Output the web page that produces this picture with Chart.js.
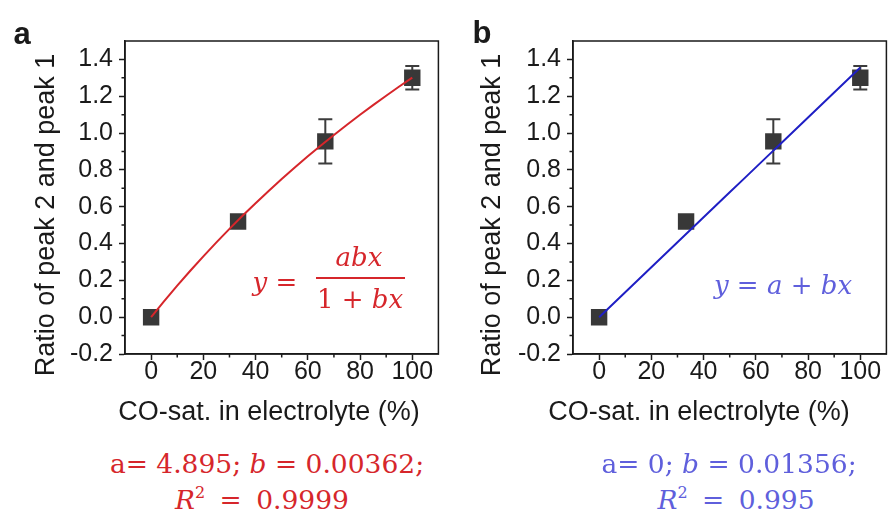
<!DOCTYPE html>
<html>
<head>
<meta charset="utf-8">
<script src="https://cdn.jsdelivr.net/npm/chart.js@4.4.1/dist/chart.umd.min.js"></script>
<style>
  html, body { margin: 0; padding: 0; background: #fff; }
  body { width: 888px; height: 519px; overflow: hidden; position: relative;
         font-family: "Liberation Sans", Arial, sans-serif; color: #1a1a1a; }
  canvas { position: absolute; top: 0; }
  #chartA { left: 0; }
  #chartB { left: 448px; }
  .t { position: absolute; white-space: nowrap; line-height: 1; transform: translate(-50%, -50%); }
  .letter { font-weight: bold; font-size: 31px; }
  .axis { font-size: 27px; }
  .rot { transform: translate(-50%, -50%) rotate(-90deg); }
  .math { font-family: "DejaVu Serif", serif; font-size: 26px; }
  .params { font-size: 26.5px; }
  .wide { word-spacing: 6px; }
  .math i { font-style: italic; }
  .math sup { font-size: 16px; vertical-align: 11px; line-height: 0; }
  .red { color: #d6262b; }
  .blue { color: #5f5fdc; }
  .bar { position: absolute; height: 2px; background: #d6262b; }
</style>
</head>
<body>
<canvas id="chartA" width="450" height="440"></canvas>
<canvas id="chartB" width="450" height="440"></canvas>

<div class="t letter" style="left:22px; top:33px;">a</div>
<div class="t letter" style="left:482px; top:32px;">b</div>

<div class="t axis rot" style="left:45px; top:215px;">Ratio of peak 2 and peak 1</div>
<div class="t axis rot" style="left:491px; top:215px;">Ratio of peak 2 and peak 1</div>
<div class="t axis" style="left:269px; top:411px;">CO-sat. in electrolyte (%)</div>
<div class="t axis" style="left:699px; top:411px;">CO-sat. in electrolyte (%)</div>

<!-- fit equations inside the plots -->
<div class="t math red" style="left:275px; top:282px;"><i>y</i> =</div>
<div class="t math red" style="left:359px; top:257px;"><i>abx</i></div>
<div class="bar" style="left:316px; top:277px; width:89px;"></div>
<div class="t math red" style="left:360px; top:299px;">1 + <i>bx</i></div>
<div class="t math blue" style="left:783px; top:285px;"><i>y</i> = <i>a</i> + <i>bx</i></div>

<!-- fit parameters under each panel -->
<div class="t math params red" style="left:267px; top:464px;">a= 4.895; <i>b</i> = 0.00362;</div>
<div class="t math params wide red" style="left:262px; top:500px;"><i>R</i><sup>2</sup> = 0.9999</div>
<div class="t math params blue" style="left:729px; top:464px;">a= 0; <i>b</i> = 0.01356;</div>
<div class="t math params wide blue" style="left:736px; top:500px;"><i>R</i><sup>2</sup> = 0.995</div>

<script>
// measured points: CO saturation (%) vs. peak ratio, with standard deviation
const coSat = [0, 33.3, 66.7, 100];
const ratio = [0, 0.52, 0.955, 1.30];
const ratioErr = [0, 0.012, 0.12, 0.064];

// fit parameters
const langmuirA = 4.895, langmuirB = 0.00362;
const linearA = 0, linearB = 0.01356;

// x positions where the fit curves are evaluated
const fitX = [0, 5, 10, 15, 20, 25, 30, 35, 40, 45, 50, 55, 60, 65, 70, 75, 80, 85, 90, 95, 100];

const ink = '#1a1a1a';
const sans = '"Liberation Sans", Arial, sans-serif';

const isMajorX = v => v >= 0 && v <= 100 && Math.round(v) % 20 === 0;
const isMajorY = v => { const k = Math.round(v * 10); return k % 2 === 0 && k >= -2 && k <= 14; };

// error bars under the markers, box frame and short minor ticks on top
const extras = {
  id: 'extras',
  beforeDatasetsDraw(chart) {
    const { ctx, scales: { x, y } } = chart;
    ctx.save();
    ctx.strokeStyle = '#3c3c3c';
    ctx.lineWidth = 2;
    coSat.forEach((c, i) => {
      if (!ratioErr[i]) return;
      const px = x.getPixelForValue(c);
      const top = y.getPixelForValue(ratio[i] + ratioErr[i]);
      const bot = y.getPixelForValue(ratio[i] - ratioErr[i]);
      ctx.beginPath();
      ctx.moveTo(px, top); ctx.lineTo(px, bot);
      ctx.moveTo(px - 7, top); ctx.lineTo(px + 7, top);
      ctx.moveTo(px - 7, bot); ctx.lineTo(px + 7, bot);
      ctx.stroke();
    });
    ctx.restore();
  },
  afterDraw(chart) {
    const { ctx, chartArea: a, scales: { x, y } } = chart;
    ctx.save();
    ctx.strokeStyle = ink;
    ctx.lineWidth = 1.5;
    ctx.strokeRect(a.left, a.top, a.right - a.left, a.bottom - a.top);
    ctx.beginPath();
    x.ticks.forEach(t => {
      if (isMajorX(t.value) || t.value <= x.min || t.value >= x.max) return;
      const px = x.getPixelForValue(t.value);
      ctx.moveTo(px, a.bottom); ctx.lineTo(px, a.bottom + 3.5);
    });
    y.ticks.forEach(t => {
      if (isMajorY(t.value) || t.value <= y.min || t.value >= y.max - 0.05) return;
      const py = y.getPixelForValue(t.value);
      ctx.moveTo(a.left, py); ctx.lineTo(a.left - 3.5, py);
    });
    ctx.stroke();
    ctx.restore();
  }
};

function makePanel(id, fitY, lineColor) {
  new Chart(document.getElementById(id), {
    type: 'scatter',
    data: {
      datasets: [
        {
          data: fitX.map((v, i) => ({ x: v, y: fitY[i] })),
          showLine: true,
          borderColor: lineColor,
          borderWidth: 2,
          pointRadius: 0,
          fill: false
        },
        {
          data: coSat.map((v, i) => ({ x: v, y: ratio[i] })),
          pointStyle: 'rect',
          pointRadius: 11.6,
          backgroundColor: '#383838',
          borderWidth: 0
        }
      ]
    },
    options: {
      responsive: false,
      animation: false,
      devicePixelRatio: 1,
      layout: { padding: { top: 41, right: 7, left: 0, bottom: 0 } },
      plugins: { legend: { display: false }, tooltip: { enabled: false } },
      scales: {
        x: {
          type: 'linear', min: -10, max: 110,
          afterFit: s => { s.height = 86; },
          border: { color: ink, width: 1.5 },
          grid: {
            drawOnChartArea: false, tickLength: 6, tickWidth: 1.5,
            tickColor: c => isMajorX(c.tick.value) ? ink : 'rgba(0,0,0,0)'
          },
          ticks: {
            stepSize: 10, autoSkip: false, maxRotation: 0, padding: 0, color: ink,
            font: { family: sans, size: 25, lineHeight: 1 },
            callback: v => isMajorX(v) ? String(Math.round(v)) : ''
          }
        },
        y: {
          min: -0.2, max: 1.5,
          afterFit: s => { s.width = 125; },
          border: { color: ink, width: 1.5 },
          grid: {
            drawOnChartArea: false, tickLength: 6, tickWidth: 1.5,
            tickColor: c => isMajorY(c.tick.value) ? ink : 'rgba(0,0,0,0)'
          },
          ticks: {
            stepSize: 0.1, autoSkip: false, padding: 6, color: ink,
            font: { family: sans, size: 25, lineHeight: 1 },
            callback: v => isMajorY(v) ? (Math.round(v * 10) / 10).toFixed(1) : ''
          }
        }
      }
    },
    plugins: [extras]
  });
}

makePanel('chartA', fitX.map(v => langmuirA * langmuirB * v / (1 + langmuirB * v)), '#d6262b');
makePanel('chartB', fitX.map(v => linearA + linearB * v), '#1f1fc4');
</script>
</body>
</html>
